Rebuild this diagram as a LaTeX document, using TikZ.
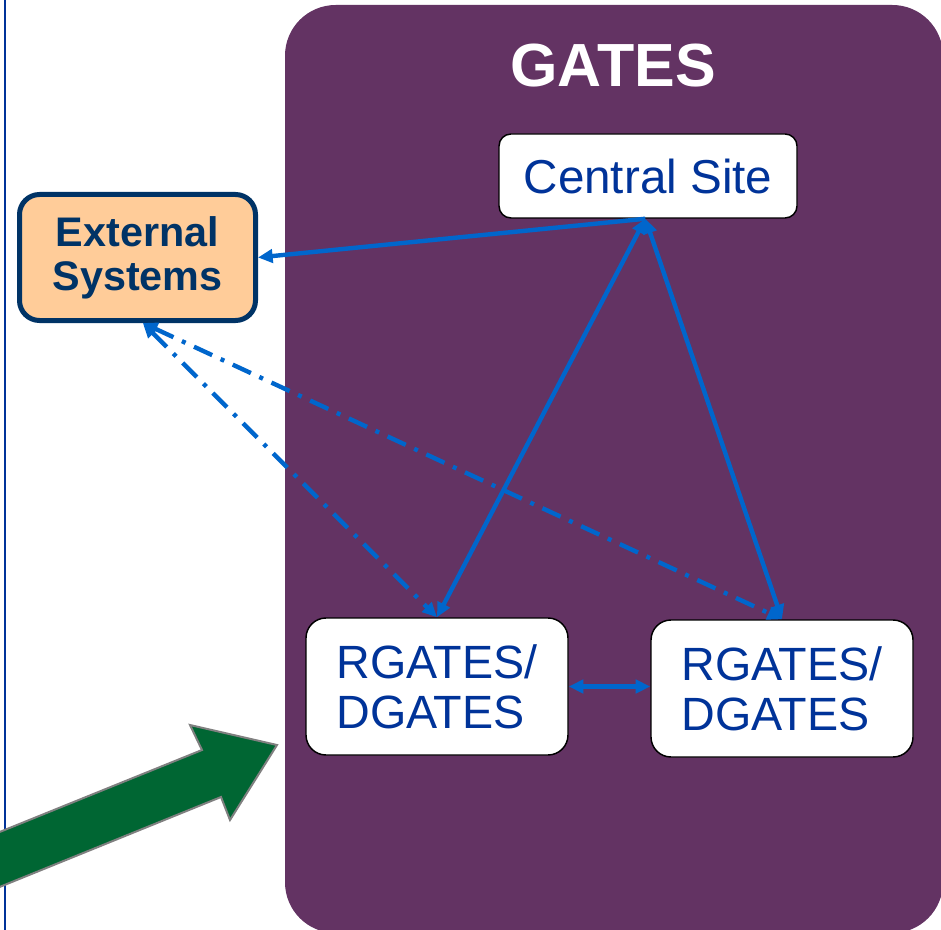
\documentclass[tikz,border=0pt]{standalone}
\usepackage{fontspec}
\setmainfont{Liberation Sans}
\usetikzlibrary{arrows.meta}
\definecolor{gatespurple}{HTML}{633363}
\definecolor{linkblue}{HTML}{0066CC}
\definecolor{textblue}{HTML}{003399}
\definecolor{extnavy}{HTML}{003366}
\definecolor{extpeach}{HTML}{FFCC99}
\definecolor{bigarrow}{HTML}{006633}
\begin{document}
\begin{tikzpicture}
  [x=0.75pt,y=-0.75pt,
   site/.style={draw=black,line width=1.1pt,fill=white,text=textblue,inner sep=0pt},
   ext/.style={draw=extnavy,line width=3.75pt,fill=extpeach,text=extnavy,rounded corners=15pt,
     align=center,inner sep=0pt,minimum width=177pt,minimum height=94.5pt,
     font=\fontsize{31}{33}\selectfont\bfseries},
   gate/.style={site,rounded corners=15pt,align=left,minimum width=196.5pt,minimum height=102.75pt,
     font=\fontsize{35}{37.5}\selectfont},
   wire/.style={draw=linkblue,line width=3.3pt},
   link/.style={wire,{Triangle[length=11pt,width=10pt]}-{Triangle[length=11pt,width=10pt]}},
   onelink/.style={wire,-{Triangle[length=11pt,width=10pt]}},
   dashlink/.style={link,dash pattern=on 15pt off 7pt on 3pt off 7pt}]
  \useasboundingbox (0,0) rectangle (941,930);
  \clip (0,0) rectangle (941,930);

  \draw[textblue,line width=1.6pt] (5,-5) -- (5,940);
  \fill[gatespurple,rounded corners=38pt] (285,5) rectangle (943,933);

  % big arrow into GATES
  \filldraw[fill=bigarrow,draw=gray,line width=1.5pt]
    (-30,844) -- (202,750) -- (190,725) -- (277,745) -- (230,820) -- (221,797) -- (-30,899) -- cycle;

  \node[text=white,font=\fontsize{45.7}{50}\selectfont\bfseries] (title) at (613,66) {GATES};
  \node[site,rounded corners=9pt,minimum width=223.5pt,minimum height=63pt,
    font=\fontsize{35.7}{40}\selectfont] (cs) at (648,176) {Central Site};
  \node[ext] (es) at (137.5,257.5) {\raisebox{-3pt}{External}\\\raisebox{-3pt}{Systems}};
  \node[gate] (rg1) at (437,686.5) {RGATES/\\DGATES};
  \node[gate] (rg2) at (782,688.5) {RGATES/\\DGATES};

  \coordinate (cstop) at ([xshift=-2pt]cs.south);
  \coordinate (esbot) at ([xshift=4pt]es.south);

  \draw[onelink] (cstop) -- (es.east);
  \foreach \from/\to in {cstop/rg1.north,cstop/rg2.north}
    \draw[link] (\from) -- (\to);
  \draw[link] (rg1.east) -- (rg1.east -| rg2.west);
  \foreach \to in {rg1.north,rg2.north}
    \draw[dashlink] (esbot) -- (\to);

\end{tikzpicture}
\end{document}
